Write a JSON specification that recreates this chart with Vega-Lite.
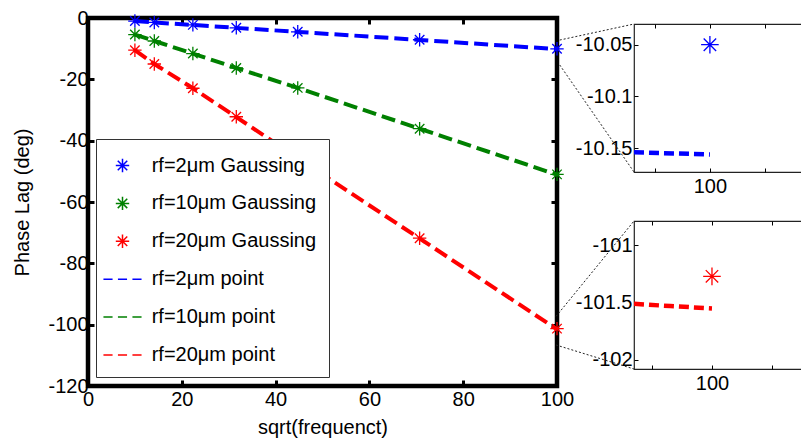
{
  "$schema": "https://vega.github.io/schema/vega-lite/v6.json",
  "background": "white",
  "padding": {"left": 10, "top": 5, "right": 0, "bottom": 0},
  "config": {
    "font": "Liberation Sans",
    "axis": {"grid": false, "domain": false, "labelFlush": false, "labelOverlap": false, "labelFontSize": 20, "titleFontSize": 20, "titleFontWeight": "normal", "labelColor": "black", "titleColor": "black", "tickColor": "black", "labelFont": "Liberation Sans", "titleFont": "Liberation Sans"},
    "legend": {"labelFont": "Liberation Sans"}
  },
  "datasets": {
    "main": [
      {"x": 10, "y": -1.0, "series": "rf=2μm Gaussing", "kind": "gauss"},
      {"x": 14.14, "y": -1.45, "series": "rf=2μm Gaussing", "kind": "gauss"},
      {"x": 22.36, "y": -2.25, "series": "rf=2μm Gaussing", "kind": "gauss"},
      {"x": 31.62, "y": -3.2, "series": "rf=2μm Gaussing", "kind": "gauss"},
      {"x": 44.72, "y": -4.5, "series": "rf=2μm Gaussing", "kind": "gauss"},
      {"x": 70.71, "y": -7.1, "series": "rf=2μm Gaussing", "kind": "gauss"},
      {"x": 100, "y": -10.05, "series": "rf=2μm Gaussing", "kind": "gauss"},
      {"x": 10, "y": -5.4, "series": "rf=10μm Gaussing", "kind": "gauss"},
      {"x": 14.14, "y": -7.5, "series": "rf=10μm Gaussing", "kind": "gauss"},
      {"x": 22.36, "y": -11.6, "series": "rf=10μm Gaussing", "kind": "gauss"},
      {"x": 31.62, "y": -16.3, "series": "rf=10μm Gaussing", "kind": "gauss"},
      {"x": 44.72, "y": -22.8, "series": "rf=10μm Gaussing", "kind": "gauss"},
      {"x": 70.71, "y": -36.1, "series": "rf=10μm Gaussing", "kind": "gauss"},
      {"x": 100, "y": -51.0, "series": "rf=10μm Gaussing", "kind": "gauss"},
      {"x": 10, "y": -10.5, "series": "rf=20μm Gaussing", "kind": "gauss"},
      {"x": 14.14, "y": -15.0, "series": "rf=20μm Gaussing", "kind": "gauss"},
      {"x": 22.36, "y": -22.9, "series": "rf=20μm Gaussing", "kind": "gauss"},
      {"x": 31.62, "y": -32.2, "series": "rf=20μm Gaussing", "kind": "gauss"},
      {"x": 44.72, "y": -45.6, "series": "rf=20μm Gaussing", "kind": "gauss"},
      {"x": 70.71, "y": -71.8, "series": "rf=20μm Gaussing", "kind": "gauss"},
      {"x": 100, "y": -101.28, "series": "rf=20μm Gaussing", "kind": "gauss"},
      {"x": 10, "y": -1.0, "series": "rf=2μm point", "kind": "point"},
      {"x": 14.14, "y": -1.45, "series": "rf=2μm point", "kind": "point"},
      {"x": 22.36, "y": -2.26, "series": "rf=2μm point", "kind": "point"},
      {"x": 31.62, "y": -3.22, "series": "rf=2μm point", "kind": "point"},
      {"x": 44.72, "y": -4.53, "series": "rf=2μm point", "kind": "point"},
      {"x": 70.71, "y": -7.15, "series": "rf=2μm point", "kind": "point"},
      {"x": 100, "y": -10.155, "series": "rf=2μm point", "kind": "point"},
      {"x": 10, "y": -5.4, "series": "rf=10μm point", "kind": "point"},
      {"x": 14.14, "y": -7.5, "series": "rf=10μm point", "kind": "point"},
      {"x": 22.36, "y": -11.6, "series": "rf=10μm point", "kind": "point"},
      {"x": 31.62, "y": -16.3, "series": "rf=10μm point", "kind": "point"},
      {"x": 44.72, "y": -22.8, "series": "rf=10μm point", "kind": "point"},
      {"x": 70.71, "y": -36.1, "series": "rf=10μm point", "kind": "point"},
      {"x": 100, "y": -51.1, "series": "rf=10μm point", "kind": "point"},
      {"x": 10, "y": -10.5, "series": "rf=20μm point", "kind": "point"},
      {"x": 14.14, "y": -15.0, "series": "rf=20μm point", "kind": "point"},
      {"x": 22.36, "y": -22.9, "series": "rf=20μm point", "kind": "point"},
      {"x": 31.62, "y": -32.3, "series": "rf=20μm point", "kind": "point"},
      {"x": 44.72, "y": -45.7, "series": "rf=20μm point", "kind": "point"},
      {"x": 70.71, "y": -71.9, "series": "rf=20μm point", "kind": "point"},
      {"x": 100, "y": -101.53, "series": "rf=20μm point", "kind": "point"}
    ],
    "in1line": [{"x": 98.62, "y": -10.154}, {"x": 100, "y": -10.156}],
    "in1star": [{"x": 100, "y": -10.05}],
    "c1": [
      {"x1": 97.27, "y1": -10.0455, "x2": 98.62, "y2": -10.03},
      {"x1": 97.27, "y1": -10.0696, "x2": 98.62, "y2": -10.173}
    ],
    "in2line": [{"x": 98.69, "y": -101.51}, {"x": 99.3, "y": -101.53}, {"x": 100, "y": -101.55}],
    "in2star": [{"x": 100, "y": -101.27}],
    "c2": [
      {"x1": 97.38, "y1": -101.62, "x2": 98.69, "y2": -100.786},
      {"x1": 97.38, "y1": -101.87, "x2": 98.69, "y2": -102.08}
    ]
  },
  "bounds": "flush",
  "spacing": 77,
  "hconcat": [
    {
      "width": 469,
      "height": 368,
      "data": {"name": "main"},
      "view": {"stroke": "black", "strokeWidth": 4.5},
      "layer": [
        {
          "transform": [{"filter": "datum.kind == 'gauss'"}],
          "mark": {"type": "point", "filled": false, "strokeWidth": 1.3, "opacity": 1, "size": 720},
          "encoding": {
            "x": {"field": "x", "type": "quantitative", "scale": {"domain": [0, 100], "nice": false, "zero": false},
                  "axis": {"orient": "bottom", "values": [0, 20, 40, 60, 80, 100], "tickSize": -6, "tickWidth": 3, "labelPadding": 9, "title": "sqrt(frequenct)", "titlePadding": 8, "labelExpr": "replace(datum.label, '−', '-')"}},
            "y": {"field": "y", "type": "quantitative", "scale": {"domain": [-120, 0], "nice": false, "zero": false},
                  "axis": {"orient": "left", "values": [-120, -100, -80, -60, -40, -20, 0], "tickSize": -6, "tickWidth": 3, "labelPadding": 6, "title": "Phase Lag (deg)", "titlePadding": 15, "labelExpr": "replace(datum.label, '−', '-')"}},
            "color": {"field": "series", "type": "nominal",
                      "scale": {"domain": ["rf=2μm Gaussing", "rf=10μm Gaussing", "rf=20μm Gaussing", "rf=2μm point", "rf=10μm point", "rf=20μm point"], "range": ["#0000ff", "#008000", "#ff0000", "#0000ff", "#008000", "#ff0000"]},
                      "legend": {"orient": "none", "legendX": 8, "legendY": 121, "title": null, "fillColor": "white", "strokeColor": "#333", "padding": 12, "labelFontSize": 20, "labelLimit": 400, "labelColor": "black", "rowPadding": 12.9, "symbolSize": 720, "symbolStrokeWidth": 1.5, "labelOffset": 14.7}},
            "shape": {"field": "series", "type": "nominal",
                      "scale": {"domain": ["rf=2μm Gaussing", "rf=10μm Gaussing", "rf=20μm Gaussing", "rf=2μm point", "rf=10μm point", "rf=20μm point"],
                                "range": ["M-0.5,0L0.5,0M0,-0.5L0,0.5M-0.3536,-0.3536L0.3536,0.3536M-0.3536,0.3536L0.3536,-0.3536", "M-0.5,0L0.5,0M0,-0.5L0,0.5M-0.3536,-0.3536L0.3536,0.3536M-0.3536,0.3536L0.3536,-0.3536", "M-0.5,0L0.5,0M0,-0.5L0,0.5M-0.3536,-0.3536L0.3536,0.3536M-0.3536,0.3536L0.3536,-0.3536", "M-1.42,0L-0.74,0M-0.34,0L0.34,0M0.74,0L1.42,0", "M-1.42,0L-0.74,0M-0.34,0L0.34,0M0.74,0L1.42,0", "M-1.42,0L-0.74,0M-0.34,0L0.34,0M0.74,0L1.42,0"]},
                      "legend": {"orient": "none", "legendX": 8, "legendY": 121, "title": null, "fillColor": "white", "strokeColor": "#333", "padding": 12, "labelFontSize": 20, "labelLimit": 400, "labelColor": "black", "rowPadding": 12.9, "symbolSize": 720, "symbolStrokeWidth": 1.5, "labelOffset": 14.7}}
          }
        },
        {
          "transform": [{"filter": "datum.kind == 'point'"}],
          "mark": {"type": "line", "strokeDash": [14, 6], "strokeWidth": 4},
          "encoding": {
            "x": {"field": "x", "type": "quantitative", "axis": {"orient": "top", "values": [20, 40, 60, 80], "tickSize": -6, "tickWidth": 3, "labels": false, "title": null}},
            "y": {"field": "y", "type": "quantitative", "axis": {"orient": "right", "values": [-100, -80, -60, -40, -20], "tickSize": -6, "tickWidth": 3, "labels": false, "title": null}},
            "detail": {"field": "series"},
            "color": {"field": "series", "type": "nominal"}
          }
        }
      ],
      "resolve": {"axis": {"x": "independent", "y": "independent"}}
    },
    {
      "bounds": "flush",
      "spacing": 0,
      "resolve": {"scale": {"x": "independent", "y": "independent"}},
      "vconcat": [
        {"width": 10, "height": 6, "data": {"values": []}, "mark": {"type": "point"}, "encoding": {}, "view": {"stroke": null}},
        {
          "width": 200,
          "height": 148,
          "view": {"stroke": "#222", "strokeWidth": 1.2},
          "layer": [
            {
              "data": {"name": "in1line"},
              "mark": {"type": "line", "color": "#0000ff", "strokeDash": [10, 5], "strokeWidth": 4.5, "clip": true},
              "encoding": {
                "x": {"field": "x", "type": "quantitative", "scale": {"domain": [98.62, 102.256], "nice": false, "zero": false},
                      "axis": {"orient": "bottom", "values": [99, 100, 101], "tickSize": -4, "tickWidth": 1, "labelPadding": 8, "title": null, "labelExpr": "datum.value == 100 ? '100' : ''"}},
                "y": {"field": "y", "type": "quantitative", "scale": {"domain": [-10.173, -10.03], "nice": false, "zero": false},
                      "axis": {"orient": "left", "values": [-10.15, -10.1, -10.05], "format": ".2~f", "tickSize": -4, "tickWidth": 1, "labelPadding": 6, "title": null, "labelExpr": "replace(datum.label, '−', '-')"}}
              }
            },
            {
              "data": {"name": "in1star"},
              "mark": {"type": "point", "shape": "M-1,0L1,0M0,-1L0,1M-0.7071,-0.7071L0.7071,0.7071M-0.7071,0.7071L0.7071,-0.7071", "filled": false, "color": "#0000ff", "size": 310, "strokeWidth": 1.3, "opacity": 1},
              "encoding": {
                "x": {"field": "x", "type": "quantitative", "axis": {"orient": "top", "values": [99, 100, 101], "tickSize": -4, "tickWidth": 1, "labels": false, "title": null}},
                "y": {"field": "y", "type": "quantitative"}
              }
            },
            {
              "data": {"name": "c1"},
              "mark": {"type": "rule", "strokeDash": [2, 2], "strokeWidth": 1, "color": "#222", "clip": false},
              "encoding": {
                "x": {"field": "x1", "type": "quantitative", "axis": null},
                "y": {"field": "y1", "type": "quantitative"},
                "x2": {"field": "x2"},
                "y2": {"field": "y2"}
              }
            }
          ],
          "resolve": {"axis": {"x": "independent"}}
        },
        {"width": 10, "height": 49, "data": {"values": []}, "mark": {"type": "point"}, "encoding": {}, "view": {"stroke": null}},
        {
          "width": 200,
          "height": 148,
          "view": {"stroke": "#222", "strokeWidth": 1.2},
          "layer": [
            {
              "data": {"name": "in2line"},
              "mark": {"type": "line", "color": "#ff0000", "strokeDash": [10, 5], "strokeWidth": 4.5, "clip": true},
              "encoding": {
                "x": {"field": "x", "type": "quantitative", "scale": {"domain": [98.69, 102.05], "nice": false, "zero": false},
                      "axis": {"orient": "bottom", "values": [99, 100, 101], "tickSize": -4, "tickWidth": 1, "labelPadding": 8, "title": null, "labelExpr": "datum.value == 100 ? '100' : ''"}},
                "y": {"field": "y", "type": "quantitative", "scale": {"domain": [-102.08, -100.786], "nice": false, "zero": false},
                      "axis": {"orient": "left", "values": [-102, -101.5, -101], "format": ".1~f", "tickSize": -4, "tickWidth": 1, "labelPadding": 6, "title": null, "labelExpr": "replace(datum.label, '−', '-')"}}
              }
            },
            {
              "data": {"name": "in2star"},
              "mark": {"type": "point", "shape": "M-1,0L1,0M0,-1L0,1M-0.7071,-0.7071L0.7071,0.7071M-0.7071,0.7071L0.7071,-0.7071", "filled": false, "color": "#ff0000", "size": 310, "strokeWidth": 1.3, "opacity": 1},
              "encoding": {
                "x": {"field": "x", "type": "quantitative", "axis": {"orient": "top", "values": [99, 100, 101], "tickSize": -4, "tickWidth": 1, "labels": false, "title": null}},
                "y": {"field": "y", "type": "quantitative"}
              }
            },
            {
              "data": {"name": "c2"},
              "mark": {"type": "rule", "strokeDash": [2, 2], "strokeWidth": 1, "color": "#222", "clip": false},
              "encoding": {
                "x": {"field": "x1", "type": "quantitative", "axis": null},
                "y": {"field": "y1", "type": "quantitative"},
                "x2": {"field": "x2"},
                "y2": {"field": "y2"}
              }
            }
          ],
          "resolve": {"axis": {"x": "independent"}}
        }
      ]
    }
  ]
}
